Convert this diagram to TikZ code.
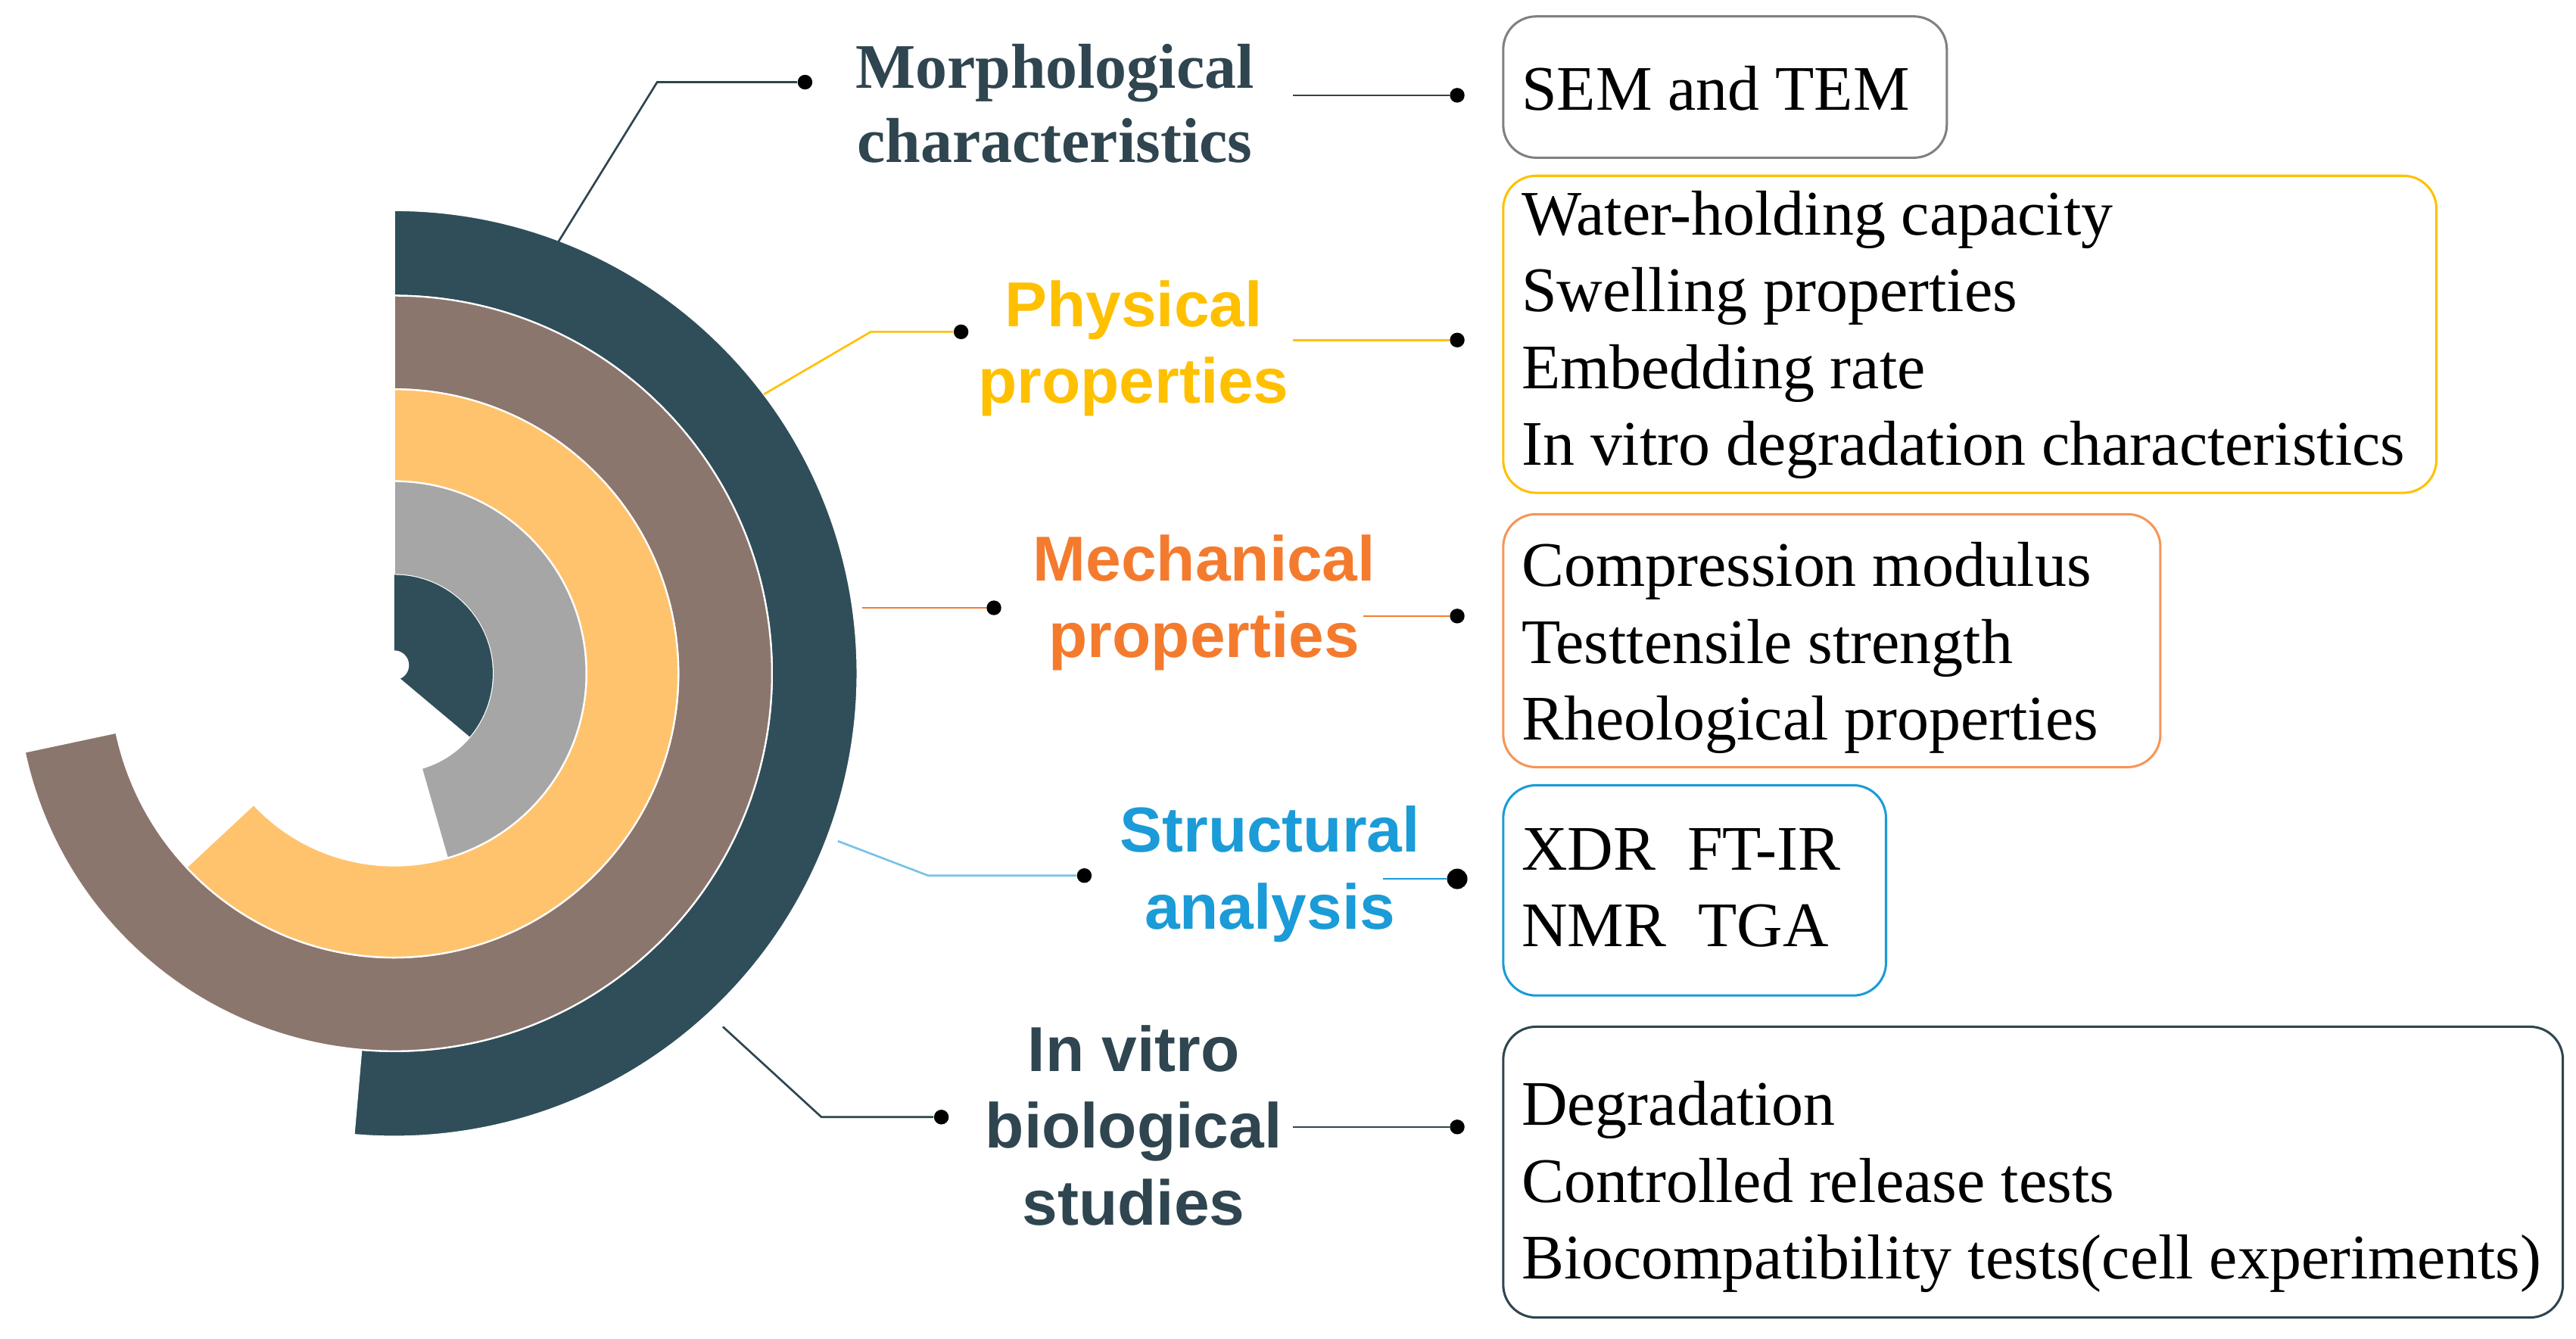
\documentclass[tikz,border=0pt]{standalone}
\usepackage{fontspec}
\setmainfont{Liberation Serif}
\setsansfont{Liberation Sans}
\definecolor{cdark}{HTML}{2F4E5A}
\definecolor{cbrown}{HTML}{8B766D}
\definecolor{cyel}{HTML}{FFC36E}
\definecolor{cgray}{HTML}{A6A6A6}
\definecolor{tyel}{HTML}{FFC000}
\definecolor{tora}{HTML}{F47B2E}
\definecolor{tblue}{HTML}{1B9BD7}
\definecolor{tdark}{HTML}{2F4550}
\begin{document}
\begin{tikzpicture}[x=0.02cm,y=-0.02cm,
  cat/.style={font=\sffamily\bfseries\fontsize{22}{26.6}\selectfont,align=center},
  box/.style={draw,rounded corners=0.4cm,line width=0.8pt},
  btxt/.style={anchor=north west,align=left,font=\fontsize{22}{26.6}\selectfont},
  dotc/.style={circle,fill,inner sep=1.8pt},
  conn/.style={line width=0.7pt}]
\useasboundingbox (0,0) rectangle (1568,815);
% arcs
\begin{scope}[x=1cm,y=1cm,shift={(4.8,-8.2)}]
\newcommand{\band}[5]{\fill[#1,draw=white,line width=0.6pt] (#2:#5) arc[start angle=#2,end angle=#3,radius=#5] -- (#3:#4) arc[start angle=#3,end angle=#2,radius=#4] -- cycle;}
\band{cdark}{90}{-95}{4.6}{5.64}
\band{cbrown}{90}{-168}{3.46}{4.6}
\band{cyel}{90}{-137}{2.34}{3.46}
\band{cgray}{90}{-74}{1.2}{2.34}
\fill[cdark] (0,0) -- (90:1.2) arc[start angle=90,end angle=-40,radius=1.2] -- cycle;
\fill[white] (0,0.1) circle (0.18);
\end{scope}
% category labels
\node[font=\bfseries\fontsize{22}{25.5}\selectfont,align=center,text=tdark] (morph) at (642,63) {Morphological\\characteristics};
\node[cat,text=tyel] (phys) at (690,212) {Physical\\properties};
\node[cat,text=tora] (mech) at (733,367) {Mechanical\\properties};
\node[cat,text=tblue] (struct) at (773,532) {Structural\\analysis};
\node[cat,text=tdark] (vitro) at (690,685) {In vitro\\biological\\studies};
% boxes
\draw[box,draw=gray] (915,10) rectangle (1185,96);
\node[btxt] (b1) at (920,34) {SEM and TEM};
\draw[box,draw=tyel] (915,107) rectangle (1483,300);
\node[btxt] (b2) at (920,110) {Water-holding capacity\\Swelling properties\\Embedding rate\\In vitro degradation characteristics};
\draw[box,draw=tora!80] (915,313) rectangle (1315,467);
\node[btxt] (b3) at (920,324) {Compression modulus\\Testtensile strength\\Rheological properties};
\draw[box,draw=tblue] (915,478) rectangle (1148,606);
\node[btxt] (b4) at (920,498) {XDR\ \ FT-IR\\NMR\ \ TGA};
\draw[box,draw=tdark] (915,625) rectangle (1560,802);
\node[btxt] (b5) at (920,652) {Degradation\\Controlled release tests\\Biocompatibility tests(cell experiments)};
% connectors
\coordinate (m0) at (340,147); \coordinate (m1) at (400,50);
\node[dotc,text=tdark] (md) at (490,50) {}; \node[dotc,text=tdark] (mr) at (887,58) {};
\draw[conn,tdark] (m0) -- (m1) -- (md); \draw[conn,tdark] (787,58) -- (mr);
\coordinate (p0) at (465,240); \coordinate (p1) at (530,202);
\node[dotc,text=tyel] (pd) at (585,202) {}; \node[dotc,text=tyel] (pr) at (887,207) {};
\draw[conn,tyel] (p0) -- (p1) -- (pd); \draw[conn,tyel] (787,207) -- (pr);
\coordinate (c0) at (525,370);
\node[dotc,text=tora] (cd) at (605,370) {}; \node[dotc,text=tora] (cr) at (887,375) {};
\draw[conn,tora] (c0) -- (cd); \draw[conn,tora] (830,375) -- (cr);
\coordinate (s0) at (510,512); \coordinate (s1) at (565,533);
\node[dotc,text=tblue] (sd) at (660,533) {}; \node[dotc,text=tblue,inner sep=2.5pt] (sr) at (887,535) {};
\draw[conn,tblue!60] (s0) -- (s1) -- (sd); \draw[conn,tblue] (842,535) -- (sr);
\coordinate (v0) at (440,625); \coordinate (v1) at (500,680);
\node[dotc,text=tdark] (vd) at (573,680) {}; \node[dotc,text=tdark] (vr) at (887,686) {};
\draw[conn,tdark] (v0) -- (v1) -- (vd); \draw[conn,tdark] (787,686) -- (vr);
\end{tikzpicture}
\end{document}
